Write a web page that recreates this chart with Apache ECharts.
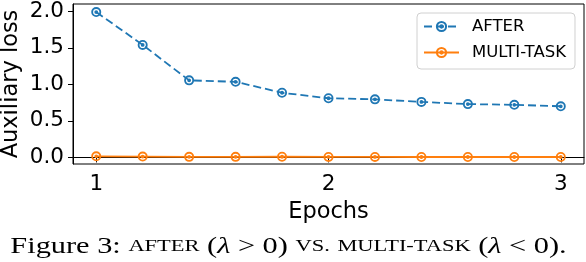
<!DOCTYPE html>
<html>
<head>
<meta charset="utf-8">
<script src="https://cdn.jsdelivr.net/npm/echarts@6/dist/echarts.min.js"></script>
<style>
html,body{margin:0;padding:0;background:#fff;}
#chart{width:586px;height:262px;}
</style>
</head>
<body>
<div id="chart"></div>
<script>
const epochs = [1.0, 1.2, 1.4, 1.6, 1.8, 2.0, 2.2, 2.4, 2.6, 2.8, 3.0];
const afterLoss = [1.99, 1.54, 1.055, 1.035, 0.885, 0.81, 0.795, 0.76, 0.73, 0.72, 0.70];
const multiTaskLoss = [0.015, 0.012, 0.008, 0.008, 0.009, 0.007, 0.007, 0.006, 0.006, 0.006, 0.006];
const xTicks = [1, 2, 3];
const yTicks = [0.0, 0.5, 1.0, 1.5, 2.0];
const seriesNames = ['AFTER', 'MULTI-TASK'];

const ringDot = 'path://M0,-10 A10,10 0 1,1 0,10 A10,10 0 1,1 0,-10 Z M0,-6.3 A6.3,6.3 0 1,0 0,6.3 A6.3,6.3 0 1,0 0,-6.3 Z M0,-3.8 A3.8,3.8 0 1,1 0,3.8 A3.8,3.8 0 1,1 0,-3.8 Z';

const chart = echarts.init(document.getElementById('chart'), null, {renderer: 'canvas'});
const tickFont = 'DejaVu Sans';
chart.setOption({
  animation: false,
  backgroundColor: '#fff',
  grid: {left: 73, right: 2, top: 4, bottom: 98, containLabel: false, outerBoundsMode: 'none',
    show: true, borderColor: '#000', borderWidth: 1, backgroundColor: 'transparent'},
  legend: {
    left: 417, top: 13,
    orient: 'vertical',
    padding: [5, 9, 8, 6],
    itemWidth: 35, itemHeight: 14, itemGap: 9,
    backgroundColor: 'rgba(255,255,255,0.8)',
    borderColor: '#d0d0d0', borderWidth: 1, borderRadius: 4,
    textStyle: {fontFamily: tickFont, fontSize: 16.5, color: '#000', padding: [0, 0, 0, 8]},
    data: seriesNames
  },
  xAxis: {
    type: 'value', min: 0.9, max: 3.1,
    name: 'Epochs', nameLocation: 'middle', nameGap: 37, nameMoveOverlap: false,
    nameTextStyle: {fontFamily: tickFont, fontSize: 22.5, color: '#000'},
    axisLine: {show: true, lineStyle: {color: '#000', width: 1}},
    axisTick: {show: true, length: 5, customValues: xTicks, lineStyle: {color: '#000'}},
    axisLabel: {customValues: xTicks, fontFamily: tickFont, fontSize: 21.5, color: '#000', margin: 9},
    splitLine: {show: false}
  },
  yAxis: {
    type: 'value', min: -0.09, max: 2.1,
    name: 'Auxiliary loss', nameLocation: 'middle', nameGap: 50, nameMoveOverlap: false,
    nameTextStyle: {fontFamily: tickFont, fontSize: 22.5, color: '#000'},
    axisLine: {show: true, lineStyle: {color: '#000', width: 1}},
    axisTick: {show: true, length: 5, customValues: yTicks, lineStyle: {color: '#000'}},
    axisLabel: {customValues: yTicks, fontFamily: tickFont, fontSize: 21.5, color: '#000', margin: 9,
      formatter: v => v.toFixed(1)},
    splitLine: {show: false}
  },
  series: [
    {
      name: seriesNames[0], type: 'line',
      data: epochs.map((e, i) => [e, afterLoss[i]]),
      symbol: ringDot, symbolSize: 10,
      lineStyle: {color: '#1f77b4', width: 1.8, type: [8, 4]},
      itemStyle: {color: '#1f77b4'}
    },
    {
      name: seriesNames[1], type: 'line',
      data: epochs.map((e, i) => [e, multiTaskLoss[i]]),
      symbol: ringDot, symbolSize: 10,
      lineStyle: {color: '#ff7f0e', width: 1.8},
      itemStyle: {color: '#ff7f0e'}
    }
  ],
  graphic: [{
    type: 'text', x: 288.5, y: 246.5, scaleX: 1.32, scaleY: 1,
    style: {
      text: 'Figure 3: {sc|AFTER} ({it|λ} > 0) {sc|VS.} {sc|MULTI-TASK} ({it|λ} < 0).',
      align: 'center', verticalAlign: 'middle',
      fontFamily: 'Liberation Serif', fontSize: 23, fill: '#000',
      rich: {
        sc: {fontFamily: 'Liberation Serif', fontSize: 17, fill: '#000'},
        it: {fontFamily: 'Liberation Serif', fontSize: 23, fontStyle: 'italic', fill: '#000'}
      }
    }
  }]
});
</script>
</body>
</html>
